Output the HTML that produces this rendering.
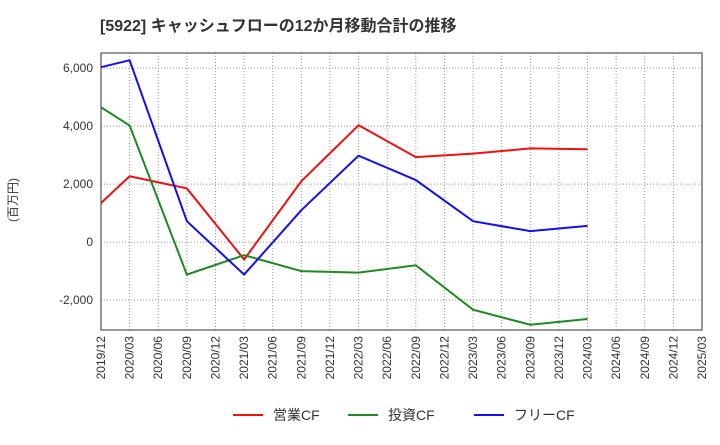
<!DOCTYPE html>
<html><head><meta charset="utf-8"><style>
body{margin:0;background:#fff;font-family:"Liberation Sans","Noto Sans CJK JP",sans-serif;}
</style></head><body>
<svg id="chart" width="720" height="440" xmlns="http://www.w3.org/2000/svg">
<text x="100" y="31" font-size="16" font-weight="bold" fill="#333" font-family="Liberation Sans, Noto Sans CJK JP, sans-serif">[5922]  キャッシュフローの12か月移動合計の推移</text>
<text transform="translate(17,200) rotate(-90)" font-size="12" fill="#333" text-anchor="middle" font-family="Liberation Sans, Noto Sans CJK JP, sans-serif">(百万円)</text>
<g id="grid"></g><g id="axes"></g><g id="series"></g><g id="legend"></g>
</svg>
<script>
const categories=["2019/12","2020/03","2020/06","2020/09","2020/12","2021/03","2021/06","2021/09","2021/12","2022/03","2022/06","2022/09","2022/12","2023/03","2023/06","2023/09","2023/12","2024/03","2024/06","2024/09","2024/12","2025/03"];
const yTicks=[6000,4000,2000,0,-2000];
const yTickLabels=["6,000","4,000","2,000","0","-2,000"];
const dataIdx=[0,1,3,5,7,9,11,13,15,17];
const opCF=[1350,2270,1850,-600,2100,4030,2930,3050,3230,3200];
const invCF=[4650,4020,-1120,-450,-1000,-1050,-800,-2330,-2850,-2650];
const freeCF=[6030,6270,720,-1120,1100,2980,2140,720,380,560];
const seriesNames=["営業CF","投資CF","フリーCF"];
const colors=["#ee1111","#228822","#1111ee"];
const NS="http://www.w3.org/2000/svg";
const L=101,R=702,T=53,B=330;
const yMin=-3030,yMax=6520;
const x=i=>L+(R-L)*i/(categories.length-1);
const y=v=>B-(v-yMin)/(yMax-yMin)*(B-T);
function mk(tag,attrs,parent){const e=document.createElementNS(NS,tag);for(const k in attrs)e.setAttribute(k,attrs[k]);document.getElementById(parent).appendChild(e);return e;}
categories.forEach((c,i)=>{
 const g=mk("line",{x1:x(i),x2:x(i),y1:T,y2:B,stroke:"#999","stroke-dasharray":"1,2","stroke-width":1},"grid");
 
 
 const t=mk("text",{transform:`translate(${x(i)+4},${B+6}) rotate(-90)`,"font-size":12,fill:"#333","text-anchor":"end"},"axes");
 t.textContent=c;
 
 
});
yTicks.forEach((v,i)=>{
 const g=mk("line",{x1:L,x2:R,y1:y(v),y2:y(v),stroke:"#999","stroke-dasharray":"1,2","stroke-width":1},"grid");
 
 
 const t=mk("text",{x:L-8,y:y(v)+4,"font-size":12,fill:"#333","text-anchor":"end"},"axes");
 t.textContent=yTickLabels[i];
 
 
});
const fr=mk("rect",{x:L,y:T,width:R-L,height:B-T,fill:"none",stroke:"#333","stroke-width":1},"axes");


[opCF,invCF,freeCF].forEach((s,k)=>{
 const p=mk("polyline",{points:s.map((v,j)=>x(dataIdx[j])+","+y(v)).join(" "),fill:"none",stroke:colors[k],"stroke-width":2},"series");
 
 
});
const lx=[233,348,474];
seriesNames.forEach((n,k)=>{
 const l=mk("line",{x1:lx[k],x2:lx[k]+30,y1:415,y2:415,stroke:colors[k],"stroke-width":2},"legend");
 
 
 const t=mk("text",{x:lx[k]+40,y:420,"font-size":14,fill:"#333"},"legend");
 t.textContent=n;
 
 
});
</script>
</body></html>
